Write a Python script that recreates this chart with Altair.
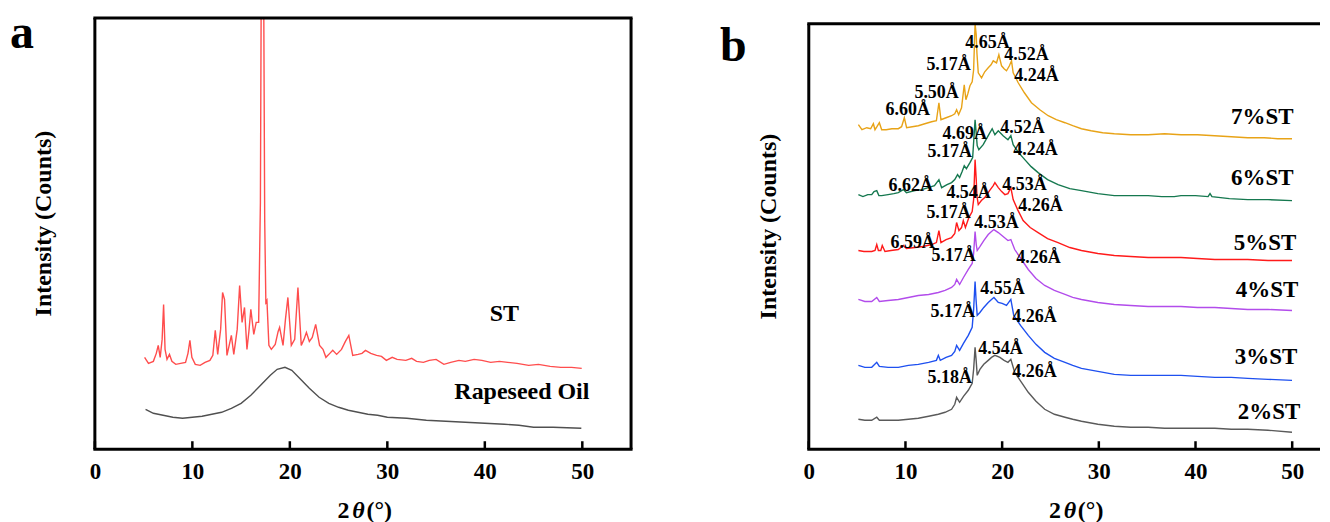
import altair as alt
import pandas as pd

FONT = "Liberation Serif"

# ---------------- panel a data: (2theta, intensity) ----------------
st_pts = [[5.1, 92], [5.5, 86], [6.0, 88], [6.3, 96], [6.5, 104], [6.7, 92], [6.9, 110], [7.05, 145], [7.2, 100], [7.4, 90],
          [7.65, 95], [7.9, 88], [8.3, 85], [8.8, 86], [9.3, 87], [9.55, 96], [9.75, 109], [9.95, 92], [10.3, 85], [10.8, 84],
          [11.3, 87], [11.8, 89], [12.1, 94], [12.35, 119], [12.6, 95], [12.9, 120], [13.1, 157], [13.3, 150], [13.55, 94], [13.8, 105],
          [14.0, 114], [14.25, 95], [14.6, 120], [14.85, 164], [15.1, 127], [15.35, 142], [15.6, 100], [15.8, 118], [16.0, 140], [16.3, 115],
          [16.55, 127], [16.8, 127], [16.98, 247], [17.08, 500], [17.3, 500], [17.42, 230], [17.54, 147], [17.65, 149], [17.85, 104], [18.1, 100],
          [18.5, 105], [18.8, 118], [18.95, 122], [19.3, 104], [19.55, 130], [19.8, 152], [20.15, 104], [20.5, 110], [20.83, 162], [21.17, 104],
          [21.45, 110], [21.7, 117], [22.0, 108], [22.3, 112], [22.65, 125], [23.05, 104], [23.4, 100], [23.7, 92], [24.1, 96], [24.4, 99],
          [24.8, 95], [25.3, 100], [25.7, 108], [26.05, 114], [26.45, 94], [27.0, 95], [27.4, 96], [27.76, 99], [28.3, 96], [28.9, 94],
          [29.4, 93], [29.9, 89], [30.5, 92], [31.0, 90], [31.9, 89], [32.5, 91], [33.0, 88], [33.7, 87], [34.3, 89], [35.0, 90],
          [35.8, 85], [36.5, 87], [37.35, 89], [38.0, 88], [38.9, 90], [39.7, 89], [40.6, 87], [41.5, 88], [42.35, 87], [43.3, 86],
          [44.5, 84], [45.5, 85], [46.7, 83], [47.8, 82], [48.9, 82], [49.94, 81]]
oil_pts = [[5.2, 40], [6.0, 36], [7.0, 34], [8.0, 32], [9.0, 31], [10.0, 32], [11.0, 33], [12.0, 35], [13.0, 37], [14.0, 41],
           [15.0, 46], [16.0, 54], [17.0, 64], [18.0, 74], [18.7, 80], [19.5, 82], [20.2, 79], [21.0, 71], [22.0, 61], [23.0, 52],
           [24.0, 46], [25.0, 42], [26.0, 39], [27.0, 37], [28.0, 35], [29.0, 34], [30.0, 32], [32.0, 31], [34.0, 29], [36.0, 28],
           [38.0, 27], [40.0, 26], [42.0, 25], [43.5, 24], [45.0, 22], [47.0, 22], [49.9, 21]]

a_series = ["ST", "Rapeseed Oil"]
a_colors = ["#FF4D4D", "#505050"]
a_labels = [["ST", 42.0, 135], ["Rapeseed Oil", 43.8, 57]]

# ---------------- panel b data ----------------
b7 = [[5.13, 325], [5.5, 320], [6.0, 322], [6.4, 321], [6.68, 326], [6.85, 320], [7.05, 323], [7.3, 327], [7.54, 320], [8.0, 320],
      [8.6, 321], [9.26, 321], [9.6, 323], [9.88, 332], [10.12, 322], [10.7, 323], [11.33, 324], [12.0, 326], [12.7, 328], [13.2, 329],
      [13.46, 347], [13.67, 330], [14.2, 332], [14.77, 334], [15.1, 336], [15.29, 340], [15.5, 335], [15.8, 342], [16.08, 365], [16.25, 350],
      [16.45, 356], [16.67, 364], [16.9, 368], [17.05, 380], [17.2, 426], [17.32, 415], [17.39, 397], [17.53, 377], [17.87, 372], [18.2, 378],
      [18.56, 382], [18.85, 385], [19.08, 389], [19.42, 387], [19.66, 395], [19.94, 384], [20.2, 381], [20.45, 379], [20.75, 384], [20.97, 389],
      [21.14, 377], [21.4, 372], [21.66, 367], [22.3, 357], [23.03, 347], [23.9, 340], [24.76, 334], [25.6, 330], [26.5, 327], [27.3, 324],
      [28.2, 321], [29.2, 319], [30.4, 317], [31.6, 316], [33.3, 315], [35.1, 315], [36.8, 316], [38.5, 315], [40.2, 315], [41.98, 314],
      [43.7, 313], [45.4, 312], [47.1, 312], [48.5, 311], [49.98, 311]]
b6 = [[5.13, 255], [5.6, 253], [6.1, 255], [6.51, 255], [6.75, 258], [7.03, 259], [7.25, 254], [7.54, 254], [8.2, 255], [8.8, 256],
      [9.26, 257], [9.78, 260], [10.1, 257], [10.98, 259], [11.7, 260], [12.36, 262], [13.0, 264], [13.46, 270], [13.74, 262], [14.3, 265],
      [14.77, 267], [15.1, 270], [15.39, 275], [15.6, 272], [15.85, 278], [16.08, 284], [16.3, 281], [16.67, 287], [16.95, 292], [17.2, 330],
      [17.42, 304], [17.59, 300], [18.04, 305], [18.56, 314], [18.97, 321], [19.25, 315], [19.6, 319], [20.1, 314], [20.6, 310], [20.9, 314],
      [21.14, 305], [21.7, 297], [22.34, 290], [23.0, 283], [23.72, 277], [24.7, 270], [25.78, 265], [27.0, 261], [28.2, 259], [29.9, 256],
      [31.6, 254], [33.3, 254], [35.1, 254], [36.5, 253], [37.8, 253], [38.5, 254], [40.0, 254], [41.3, 253], [41.5, 256], [41.7, 253],
      [43.5, 251], [45.4, 250], [47.5, 250], [49.98, 249]]
b5 = [[5.13, 199], [5.7, 198], [6.51, 198], [6.85, 199], [7.03, 205], [7.2, 199], [7.45, 199], [7.6, 204], [7.88, 198], [8.5, 199],
      [9.26, 200], [9.78, 204], [10.1, 201], [10.98, 202], [11.8, 203], [12.7, 205], [13.2, 207], [13.46, 219], [13.67, 207], [14.2, 210],
      [14.77, 212], [15.1, 216], [15.29, 227], [15.53, 219], [15.8, 222], [15.98, 229], [16.2, 222], [16.56, 232], [16.9, 238], [17.05, 250],
      [17.2, 290], [17.32, 270], [17.39, 254], [17.53, 245], [17.85, 249], [18.2, 252], [18.7, 259], [19.08, 264], [19.25, 267], [19.6, 262],
      [19.95, 258], [20.28, 255], [20.6, 256], [20.9, 262], [21.14, 250], [21.6, 240], [22.17, 229], [22.9, 222], [23.72, 217], [24.7, 211],
      [25.78, 207], [27.0, 202], [28.2, 199], [29.9, 196], [31.6, 194], [33.3, 193], [35.1, 192], [36.8, 192], [38.5, 192], [40.2, 191],
      [42.0, 190], [43.7, 190], [45.4, 190], [47.5, 189], [49.98, 189]]
b4 = [[5.13, 150], [5.8, 148], [6.51, 148], [7.03, 152], [7.3, 148], [8.2, 149], [9.26, 150], [10.3, 152], [11.33, 154], [12.4, 155],
      [13.4, 157], [14.1, 159], [14.77, 162], [15.1, 165], [15.29, 170], [15.6, 165], [16.0, 172], [16.5, 180], [16.9, 186], [17.05, 196],
      [17.2, 218], [17.32, 205], [17.42, 199], [17.7, 203], [18.1, 209], [18.56, 215], [18.9, 218], [19.15, 220], [19.6, 217], [20.1, 213],
      [20.6, 209], [20.9, 210], [21.3, 200], [22.0, 190], [22.7, 180], [23.5, 171], [24.4, 164], [25.4, 159], [26.5, 155], [27.3, 152],
      [28.2, 150], [29.9, 147], [31.6, 145], [33.3, 144], [35.1, 143], [36.8, 143], [38.5, 143], [40.2, 142], [42.0, 142], [43.7, 141],
      [45.4, 140], [47.5, 140], [49.98, 139]]
b3 = [[5.13, 84], [5.8, 82], [6.51, 82], [7.03, 87], [7.3, 83], [8.2, 82], [9.26, 82], [10.3, 84], [11.33, 85], [12.4, 87],
      [13.2, 89], [13.4, 94], [13.6, 89], [14.2, 92], [14.77, 94], [15.1, 98], [15.29, 104], [15.6, 99], [16.0, 106], [16.5, 114],
      [16.9, 122], [17.05, 140], [17.2, 168], [17.3, 150], [17.42, 134], [17.7, 137], [18.1, 142], [18.56, 147], [18.9, 150], [19.15, 152],
      [19.6, 147], [20.0, 146], [20.45, 144], [20.9, 150], [21.2, 134], [21.9, 124], [22.7, 114], [23.5, 105], [24.4, 97], [25.4, 91],
      [26.5, 87], [27.3, 84], [28.2, 81], [29.9, 78], [31.6, 75], [33.3, 74], [35.1, 74], [36.8, 74], [38.5, 74], [40.2, 73],
      [42.0, 72], [43.7, 72], [45.4, 71], [47.5, 70], [49.98, 69]]
b2 = [[5.13, 30], [5.8, 29], [6.51, 29], [7.03, 32], [7.3, 29], [8.2, 29], [9.26, 29], [10.3, 30], [11.33, 31], [12.4, 33],
      [13.4, 35], [14.1, 37], [14.77, 40], [15.1, 45], [15.29, 52], [15.6, 47], [16.0, 53], [16.5, 59], [16.9, 66], [17.05, 80],
      [17.2, 102], [17.32, 88], [17.42, 74], [17.7, 80], [18.1, 85], [18.56, 89], [18.9, 92], [19.25, 94], [19.77, 92], [20.2, 89],
      [20.6, 87], [20.9, 90], [21.3, 77], [22.0, 67], [22.7, 57], [23.5, 48], [24.4, 40], [25.4, 35], [26.5, 32], [27.3, 30],
      [28.2, 28], [29.9, 25], [31.6, 23], [33.3, 22], [35.1, 22], [36.8, 21], [38.5, 21], [40.2, 21], [42.0, 21], [43.7, 20],
      [45.4, 20], [47.5, 19], [49.98, 17]]

b_series = ["7%ST", "6%ST", "5%ST", "4%ST", "3%ST", "2%ST"]
b_colors = ["#E8A317", "#15784F", "#FF1A1A", "#B24CEB", "#1E50F0", "#5A5A5A"]

b_peak_labels = [
    ["4.65Å", 18.49, 407], ["5.17Å", 14.46, 385], ["4.52Å", 22.52, 395], ["4.24Å", 23.55, 374],
    ["5.50Å", 13.22, 357], ["6.60Å", 10.23, 340],
    ["4.69Å", 16.12, 316], ["4.52Å", 22.11, 322], ["5.17Å", 14.57, 298], ["4.24Å", 23.45, 300], ["6.62Å", 10.54, 264],
    ["4.54Å", 16.53, 257], ["4.53Å", 22.31, 265], ["5.17Å", 14.46, 237], ["4.26Å", 23.97, 244], ["6.59Å", 10.74, 207],
    ["4.53Å", 19.42, 227], ["5.17Å", 14.98, 194], ["4.26Å", 23.76, 192],
    ["4.55Å", 20.04, 160], ["5.17Å", 14.88, 137], ["4.26Å", 23.35, 132],
    ["4.54Å", 19.83, 100], ["5.18Å", 14.57, 71], ["4.26Å", 23.35, 77],
]
b_name_labels = [["7%ST", 46.9, 333], ["6%ST", 46.9, 272], ["5%ST", 47.2, 207],
                 ["4%ST", 47.4, 159], ["3%ST", 47.3, 92], ["2%ST", 47.6, 37]]

tick_values = [0, 10, 20, 30, 40, 50]

# ---------------- helpers ----------------
H = 432
WA, WB = 537, 512
one = pd.DataFrame({"k": [0]})


def frame(series, pts_list):
    rows = []
    for name, pts in zip(series, pts_list):
        for x, y in pts:
            rows.append({"x": x, "y": y, "s": name})
    return pd.DataFrame(rows)


def txt(text, x, y, size, angle=0, align="center", baseline="alphabetic", style="normal"):
    kw = dict(text=text, font=FONT, fontSize=size, fontWeight="bold", color="black",
              align=align, baseline=baseline, fontStyle=style)
    if angle:
        kw["angle"] = angle
    return alt.Chart(one).mark_text(**kw).encode(x=alt.value(x), y=alt.value(y))


def hrule(x1, x2, y, color="black", width=3):
    return alt.Chart(one).mark_rule(color=color, strokeWidth=width).encode(
        x=alt.value(x1), x2=alt.value(x2), y=alt.value(y))


def vrule(x, y1, y2, width=3):
    return alt.Chart(one).mark_rule(color="black", strokeWidth=width).encode(
        x=alt.value(x), y=alt.value(y1), y2=alt.value(y2))


def panel(df, series, colors, xmax, width, labels_peak, labels_name, name_size,
          letter, letter_x, letter_y, ytitle_x, ytitle_y, theta_x, top, right_border, clip, peak_size):
    xenc = alt.X("x:Q", scale=alt.Scale(domain=[0, xmax], nice=False, zero=False),
                 axis=alt.Axis(values=tick_values, ticks=False, domain=False, grid=False,
                               labelFont=FONT, labelFontSize=23, labelFontWeight="bold",
                               labelColor="black", labelPadding=11, labelFlush=False,
                               format="d", title=None))
    yenc = alt.Y("y:Q", scale=alt.Scale(domain=[0, H], nice=False, zero=False), axis=None)

    lines = alt.Chart(df).mark_line(strokeWidth=1.4, clip=clip).encode(
        x=xenc, y=yenc,
        color=alt.Color("s:N", scale=alt.Scale(domain=series, range=colors), legend=None),
        detail="s:N")

    ticks = alt.Chart(pd.DataFrame({"x": tick_values})).mark_rule(
        color="black", strokeWidth=2.5).encode(x=xenc, y=alt.value(H - 8), y2=alt.value(H))

    layers = [lines, ticks]
    if labels_peak:
        pk = pd.DataFrame(labels_peak, columns=["t", "x", "y"])
        layers.append(alt.Chart(pk).mark_text(font=FONT, fontSize=peak_size, fontWeight="bold",
                                              color="black").encode(x=xenc, y=yenc, text="t:N"))
    nm = pd.DataFrame(labels_name, columns=["t", "x", "y"])
    layers.append(alt.Chart(nm).mark_text(font=FONT, fontSize=name_size, fontWeight="bold",
                                          color="black").encode(x=xenc, y=yenc, text="t:N"))

    # frame
    layers.append(hrule(-1.5, width + (1.5 if right_border else 0), top))
    layers.append(hrule(-1.5, width + (1.5 if right_border else 0), H))
    layers.append(vrule(0, top, H))
    if right_border:
        layers.append(vrule(width, top, H))

    # panel letter and titles
    layers.append(txt(letter, letter_x, letter_y, 48, align="left"))
    layers.append(txt("Intensity (Counts)", ytitle_x, ytitle_y, 24, angle=270))
    layers.append(txt("2", theta_x - 9, 501, 24, align="right"))
    layers.append(txt("θ", theta_x, 501, 24, style="italic"))
    layers.append(txt("(°)", theta_x + 8, 501, 24, align="left"))

    return alt.layer(*layers).properties(width=width, height=H)


df_a = frame(a_series, [st_pts, oil_pts])
df_b = frame(b_series, [b7, b6, b5, b4, b3, b2])

pa = panel(df_a, a_series, a_colors, 55, WA, None, a_labels, 24,
           "a", -85, 30, -44, 206, 264, 0, True, True, 18)
pb = panel(df_b, b_series, b_colors, WB / 9.683, WB, b_peak_labels, b_name_labels, 23,
           "b", -89, 43, -33, 209, 261.5, 6, False, False, 18)

chart = alt.hconcat(pa, pb, spacing=86).resolve_scale(color="independent").properties(
    padding={"left": 2, "top": 1.5, "right": 0, "bottom": 0},
    background="white",
).configure_view(stroke=None)

chart.save("out.html", embed_options={"renderer": "svg", "actions": False})
